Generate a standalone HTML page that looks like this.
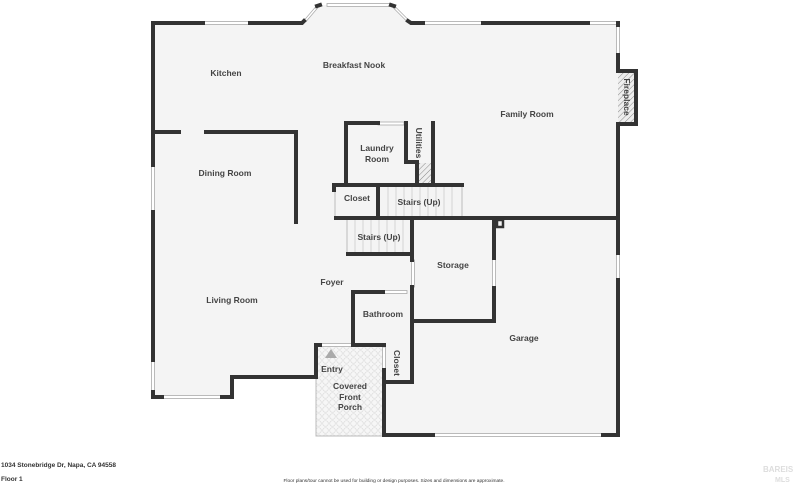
<!DOCTYPE html>
<html><head><style>
html,body{margin:0;padding:0;background:#fff;width:800px;height:487px;overflow:hidden}
text{font-family:"Liberation Sans",sans-serif;font-weight:bold;fill:#444;font-size:8.5px}
</style></head><body>
<svg width="800" height="487" viewBox="0 0 800 487" xmlns="http://www.w3.org/2000/svg">
<defs>
<pattern id="hatch" width="4" height="4" patternUnits="userSpaceOnUse" patternTransform="rotate(45)"><rect width="4" height="4" fill="#eee"/><line x1="0" y1="0" x2="0" y2="4" stroke="#888" stroke-width="1"/></pattern>
<pattern id="tile" width="7" height="7" patternUnits="userSpaceOnUse"><rect width="7" height="7" fill="#f6f6f6"/><circle cx="3.5" cy="3.5" r="2.8" fill="none" stroke="#ddd" stroke-width="0.7"/></pattern>
</defs>
<!-- floor fill -->
<polygon points="153,23 302,23 318,5 393,5 411,23 618,23 618,435 384,435 384,436 316,436 316,377 232,377 232,397 153,397" fill="#f4f4f4"/>
<rect x="316" y="345" width="68" height="91" fill="url(#tile)" stroke="#bbb" stroke-width="1"/>
<rect x="618" y="71" width="18" height="53" fill="url(#hatch)"/>
<rect x="418" y="163" width="14" height="20" fill="url(#hatch)"/>
<!-- stairs lines -->
<g stroke="#ccc" stroke-width="0.8">
<line x1="388" y1="186" x2="388" y2="218"/><line x1="396" y1="186" x2="396" y2="218"/><line x1="404" y1="186" x2="404" y2="218"/><line x1="412" y1="186" x2="412" y2="218"/><line x1="420" y1="186" x2="420" y2="218"/><line x1="428" y1="186" x2="428" y2="218"/><line x1="436" y1="186" x2="436" y2="218"/><line x1="444" y1="186" x2="444" y2="218"/><line x1="452" y1="186" x2="452" y2="218"/>
<line x1="355" y1="220" x2="355" y2="253"/><line x1="363" y1="220" x2="363" y2="253"/><line x1="371" y1="220" x2="371" y2="253"/><line x1="379" y1="220" x2="379" y2="253"/><line x1="387" y1="220" x2="387" y2="253"/><line x1="395" y1="220" x2="395" y2="253"/><line x1="403" y1="220" x2="403" y2="253"/>
</g>
<g stroke="#bbb" stroke-width="1" fill="none">
<line x1="462" y1="186" x2="462" y2="218"/><line x1="347" y1="220" x2="347" y2="255"/>
<line x1="335" y1="190" x2="335" y2="216"/>
</g>
<!-- windows -->
<g fill="#fff" stroke="#aaa" stroke-width="0.8">
<rect x="203" y="21.5" width="47" height="3"/>
<rect x="327" y="3.5" width="63" height="3"/>
<rect x="423" y="21.5" width="60" height="3"/>
<rect x="588" y="21.5" width="30" height="3"/>
<rect x="616.5" y="25" width="3" height="30"/>
<rect x="151.5" y="165" width="3" height="47"/>
<rect x="151.5" y="360" width="3" height="32"/>
<rect x="162" y="395.5" width="60" height="3"/>
<rect x="378" y="122" width="26" height="3"/>
<rect x="411.5" y="260" width="3" height="27"/>
<rect x="492.5" y="258" width="3" height="30"/>
<rect x="383" y="290.5" width="24" height="3"/>
<rect x="320" y="343.5" width="32" height="3"/>
<rect x="382.5" y="347" width="3" height="23"/>
<rect x="616.5" y="253" width="3" height="27"/>
<rect x="433" y="433.5" width="170" height="3"/>
</g>
<g stroke="#aaa" stroke-width="3" fill="none"><line x1="305" y1="21" x2="317" y2="7"/><line x1="394" y1="7" x2="408" y2="21"/></g>
<g stroke="#fff" stroke-width="1.5" fill="none"><line x1="305" y1="21" x2="317" y2="7"/><line x1="394" y1="7" x2="408" y2="21"/></g>
<!-- walls -->
<g stroke="#333" stroke-width="4" fill="none" stroke-linecap="square">
<polyline points="203,23 153,23 153,165"/>
<line x1="153" y1="212" x2="153" y2="360"/>
<polyline points="153,392 153,397 162,397"/>
<polyline points="222,397 232,397 232,377 316,377 316,345 320,345"/>
<polyline points="250,23 302,23 304,21"/>
<line x1="317" y1="6" x2="320" y2="5"/><line x1="391" y1="5" x2="394" y2="6"/>
<polyline points="408,21 411,23 423,23"/>
<line x1="483" y1="23" x2="588" y2="23"/>
<polyline points="618,55 618,71 636,71 636,124 618,124 618,253"/>
<line x1="618" y1="23" x2="618" y2="25"/>
<polyline points="618,280 618,435 603,435"/>
<polyline points="433,435 384,435 384,370"/>
<polyline points="385,382 412,382 412,287"/>
<line x1="412" y1="260" x2="412" y2="218"/>
<line x1="153" y1="132" x2="179" y2="132"/>
<polyline points="206,132 296,132 296,222"/>
<polyline points="378,123 346,123 346,185"/>
<polyline points="406,123 406,162 417,162 417,185"/>
<line x1="433" y1="123" x2="433" y2="185"/>
<line x1="334" y1="185" x2="462" y2="185"/>
<line x1="334" y1="186" x2="334" y2="190"/>
<line x1="378" y1="185" x2="378" y2="218"/>
<line x1="336" y1="218" x2="618" y2="218"/>
<polyline points="348,254 412,254"/>
<polyline points="494,218 494,258"/>
<polyline points="494,288 494,321 413,321"/>
<polyline points="383,292 353,292 353,345 384,345"/>
<rect x="497" y="220" width="6" height="7" stroke-width="2.5"/>
</g>
<polygon points="325,358 331,349 337,358" fill="#aaa"/>
<!-- labels -->
<text x="226" y="76" text-anchor="middle">Kitchen</text>
<text x="354" y="68" text-anchor="middle">Breakfast Nook</text>
<text x="527" y="117" text-anchor="middle">Family Room</text>
<text x="377" y="151" text-anchor="middle">Laundry</text>
<text x="377" y="162" text-anchor="middle">Room</text>
<text transform="translate(416,143) rotate(90)" text-anchor="middle">Utilities</text>
<text transform="translate(624,97) rotate(90)" text-anchor="middle">Fireplace</text>
<text x="225" y="176" text-anchor="middle">Dining Room</text>
<text x="357" y="201" text-anchor="middle">Closet</text>
<text x="419" y="205" text-anchor="middle">Stairs (Up)</text>
<text x="379" y="240" text-anchor="middle">Stairs (Up)</text>
<text x="332" y="285" text-anchor="middle">Foyer</text>
<text x="232" y="303" text-anchor="middle">Living Room</text>
<text x="453" y="268" text-anchor="middle">Storage</text>
<text x="383" y="317" text-anchor="middle">Bathroom</text>
<text x="524" y="341" text-anchor="middle">Garage</text>
<text transform="translate(394,363) rotate(90)" text-anchor="middle">Closet</text>
<text x="332" y="372" text-anchor="middle">Entry</text>
<text x="350" y="389" text-anchor="middle">Covered</text>
<text x="350" y="400" text-anchor="middle">Front</text>
<text x="350" y="410" text-anchor="middle">Porch</text>
<text x="1" y="467" style="font-size:6.5px;fill:#333">1034 Stonebridge Dr, Napa, CA 94558</text>
<text x="1" y="481" style="font-size:6.5px;fill:#333">Floor 1</text>
<text x="394" y="482" text-anchor="middle" style="font-size:4.8px;fill:#333;font-weight:normal">Floor plans/tour cannot be used for building or design purposes. Sizes and dimensions are approximate.</text>
<text x="763" y="472" style="font-size:8px;fill:#ddd">BAREIS</text>
<text x="775" y="482" style="font-size:7px;fill:#ddd">MLS</text>
</svg>
</body></html>
